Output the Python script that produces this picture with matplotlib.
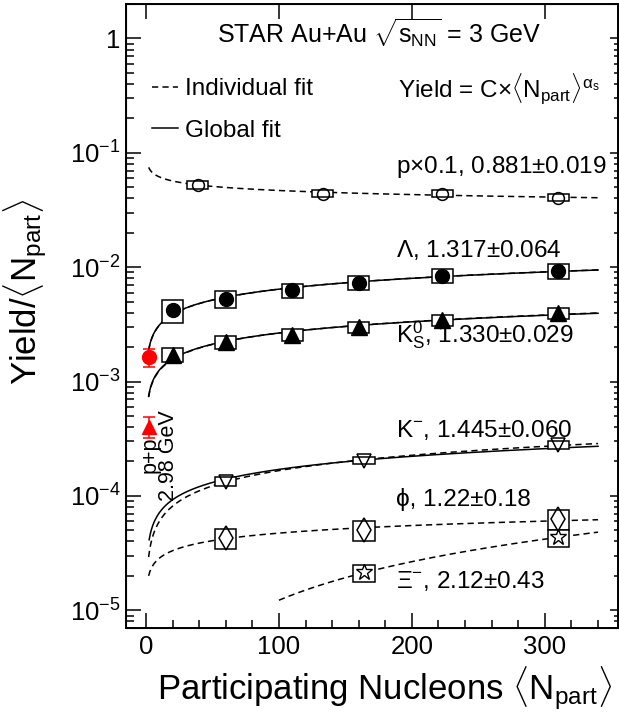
import numpy as np
import matplotlib
matplotlib.use('Agg')
import matplotlib.pyplot as plt
from matplotlib.patches import Rectangle
from matplotlib.ticker import MultipleLocator, LogLocator, FuncFormatter, NullFormatter

plt.rcParams['font.family'] = ['Liberation Sans', 'DejaVu Sans']
plt.rcParams['mathtext.fontset'] = 'custom'
plt.rcParams['mathtext.rm'] = 'Liberation Sans'
plt.rcParams['mathtext.it'] = 'Liberation Sans:italic'
plt.rcParams['mathtext.bf'] = 'Liberation Sans:bold'
plt.rcParams['lines.scale_dashes'] = False

# Data: Yield/<Npart> vs <Npart>
npart_p = [39, 133, 223, 310]
yield_p = [0.0525, 0.044, 0.044, 0.0406]     # protons x 0.1
sys_p = [0.08, 0.07, 0.07, 0.07]

npart_lam = [20, 60, 110, 160, 223, 310]
yield_lam = [4.2e-3, 5.25e-3, 6.3e-3, 7.3e-3, 8.4e-3, 9.3e-3]
sys_lam = [0.22, 0.17, 0.14, 0.14, 0.14, 0.15]

npart_k0s = [20, 60, 110, 160, 223, 310]
yield_k0s = [1.71e-3, 2.22e-3, 2.57e-3, 3.0e-3, 3.45e-3, 3.94e-3]
sys_k0s = [0.14, 0.13, 0.12, 0.11, 0.11, 0.11]

npart_km = [60, 164, 310]
yield_km = [1.33e-4, 2.03e-4, 2.81e-4]
sys_km = [0.09, 0.07, 0.08]

npart_phi = [60, 164, 310]
yield_phi = [4.28e-5, 5.03e-5, 6.28e-5]
sys_phi = [0.2, 0.2, 0.2]

npart_xi = [164, 310]
yield_xi = [2.14e-5, 4.33e-5]
sys_xi = [0.17, 0.17]

# p+p reference at 2.98 GeV
npart_pp = 2
yield_pp_lam, err_pp_lam = 1.63e-3, 0.29e-3
yield_pp_k0s, err_pp_k0s = 4.03e-4, 0.85e-4

# fit exponents (individual fits, and global fit for Lambda, K0s, K-)
alpha_p, alpha_lam, alpha_k0s, alpha_km, alpha_phi, alpha_xi = 0.881, 1.317, 1.330, 1.445, 1.22, 2.12
glob_alpha_lam, glob_alpha_k0s, glob_alpha_km = 1.315, 1.325, 1.38


def norm_const(x, y, alpha):
    # C in Yield/Npart = C * Npart^(alpha-1), fixed alpha, fitted in log space
    x = np.asarray(x, float)
    y = np.asarray(y, float)
    return np.exp(np.mean(np.log(y) - (alpha - 1) * np.log(x)))


def fit_curve(ax, x, y, alpha, x0=2, x1=340, ls='--'):
    c = norm_const(x, y, alpha)
    xx = np.linspace(x0, x1, 400)
    if ls == '--':
        ax.plot(xx, c * xx ** (alpha - 1), color='k', lw=1.1, dashes=(4.5, 3), zorder=2)
    else:
        ax.plot(xx, c * xx ** (alpha - 1), color='k', lw=1.1, zorder=2)


def sys_boxes(ax, x, y, s, hw=8):
    for xi, yi, si in zip(x, y, s):
        ax.add_patch(Rectangle((xi - hw, yi * (1 - si)), 2 * hw, 2 * si * yi,
                               facecolor='white', edgecolor='k', lw=1.1, zorder=3))


fig = plt.figure(figsize=(6.19, 7.2), dpi=100)
ax = fig.add_axes([126 / 619, 92 / 720, 492 / 619, 624 / 720])
ax.set_yscale('log')
ax.set_xlim(-15, 355)
ax.set_ylim(7e-6, 2.0)

# fits
fit_curve(ax, npart_p, yield_p, alpha_p)
fit_curve(ax, npart_lam, yield_lam, alpha_lam)
fit_curve(ax, npart_k0s, yield_k0s, alpha_k0s)
fit_curve(ax, npart_km, yield_km, alpha_km)
fit_curve(ax, npart_phi, yield_phi, alpha_phi)
fit_curve(ax, npart_xi, yield_xi, alpha_xi, x0=100)
fit_curve(ax, npart_lam, yield_lam, glob_alpha_lam, ls='-')
fit_curve(ax, npart_k0s, yield_k0s, glob_alpha_k0s, ls='-')
fit_curve(ax, npart_km, yield_km, glob_alpha_km, x0=2.4, ls='-')

# systematic boxes
sys_boxes(ax, npart_p, yield_p, sys_p)
sys_boxes(ax, npart_lam, yield_lam, sys_lam)
sys_boxes(ax, npart_k0s, yield_k0s, sys_k0s)
sys_boxes(ax, npart_km, yield_km, sys_km)
sys_boxes(ax, npart_phi, yield_phi, sys_phi)
sys_boxes(ax, npart_xi, yield_xi, sys_xi)

# data points
ax.plot(npart_p, yield_p, 'o', mfc='none', mec='k', mew=1.1, ms=8.5, ls='none', zorder=4)
ax.plot(npart_lam, yield_lam, 'o', color='k', ms=10, ls='none', zorder=4)
ax.plot(npart_k0s, yield_k0s, '^', color='k', ms=11, ls='none', zorder=4)
ax.plot(npart_km, yield_km, 'v', mfc='none', mec='k', mew=1.1, ms=10, ls='none', zorder=4)
ax.plot(npart_phi, yield_phi, 'd', mfc='none', mec='k', mew=1.1, ms=12, ls='none', zorder=4)
ax.plot(npart_xi, yield_xi, '*', mfc='none', mec='k', mew=1.0, ms=12, ls='none', zorder=4)

ax.errorbar([npart_pp], [yield_pp_lam], yerr=[err_pp_lam], fmt='o', color='red', ms=10,
            capsize=4.5, elinewidth=1.1, capthick=1.1, zorder=5)
ax.errorbar([npart_pp], [yield_pp_k0s], yerr=[err_pp_k0s], fmt='^', color='red', ms=10,
            capsize=4.5, elinewidth=1.1, capthick=1.1, zorder=5)

# ticks, ROOT style
ax.xaxis.set_major_locator(MultipleLocator(100))
ax.xaxis.set_minor_locator(MultipleLocator(20))
ax.yaxis.set_major_locator(LogLocator(base=10, numticks=20))
ax.yaxis.set_minor_locator(LogLocator(base=10, subs=np.arange(2, 10), numticks=20))
ax.yaxis.set_minor_formatter(NullFormatter())


def ylab(v, pos):
    e = int(round(np.log10(v)))
    return '1' if e == 0 else r'10$^{\mathregular{%d}}$' % e


ax.yaxis.set_major_formatter(FuncFormatter(ylab))
ax.tick_params(axis='both', which='both', direction='in', width=1.1, labelsize=18.5)
ax.tick_params(axis='both', which='major', length=11)
ax.tick_params(axis='both', which='minor', length=5.5)
ax.tick_params(axis='x', top=True, pad=5)
ax.tick_params(axis='y', right=False, pad=4)
for sp in ax.spines.values():
    sp.set_linewidth(1.4)

# shorter ticks on the right side
ax2 = ax.twinx()
ax2.set_yscale('log')
ax2.set_ylim(ax.get_ylim())
ax2.yaxis.set_major_locator(LogLocator(base=10, numticks=20))
ax2.yaxis.set_minor_locator(LogLocator(base=10, subs=np.arange(2, 10), numticks=20))
ax2.tick_params(axis='y', which='both', direction='in', width=1.1, labelright=False)
ax2.tick_params(axis='y', which='major', length=6)
ax2.tick_params(axis='y', which='minor', length=3)

# axis titles
fig.text(385 / 619, 21 / 720, r'Participating Nucleons $\langle$N$_{\mathrm{part}}\rangle$',
         ha='center', va='baseline', fontsize=25)
fig.text(25 / 619, 428 / 720, r'Yield/$\langle$N$_{\mathrm{part}}\rangle$',
         ha='center', va='center', rotation=90, fontsize=25)

# annotations
tf = ax.transAxes
ax.text(0.184, 0.937, r'STAR Au+Au $\sqrt{\mathrm{s}_{\mathrm{NN}}}$ = 3 GeV', transform=tf,
        fontsize=18, va='baseline')
ax.plot([0.053, 0.106], [0.867, 0.867], transform=tf, color='k', lw=1.1, dashes=(4.5, 3))
ax.text(0.12, 0.854, 'Individual fit', transform=tf, fontsize=17.5, va='baseline')
ax.plot([0.053, 0.106], [0.802, 0.802], transform=tf, color='k', lw=1.1)
ax.text(0.12, 0.787, 'Global fit', transform=tf, fontsize=17.5, va='baseline')
ax.text(0.553, 0.851, r'Yield = C$\times\langle$N$_{\mathrm{part}}\rangle^{\mathrm{\alpha_{s}}}$',
        transform=tf, fontsize=17.5, va='baseline')

labels = [
    (0.729, r'p$\times$0.1, 0.881$\pm$0.019'),
    (0.595, r'$\Lambda$, 1.317$\pm$0.064'),
    (0.457, r'K$_{\mathrm{S}}^{0}$, 1.330$\pm$0.029'),
    (0.306, r'K$^{-}$, 1.445$\pm$0.060'),
    (0.196, 'ϕ, 1.22±0.18'),
    (0.064, r'$\Xi^{-}$, 2.12$\pm$0.43'),
]
for yy, s in labels:
    ax.text(0.549, yy, s, transform=tf, fontsize=17.5, va='baseline')

ax.text(0.068, 0.277, 'p+p\n2.98 GeV', transform=tf, fontsize=15.5, rotation=90,
        ha='center', va='center', multialignment='center', linespacing=0.85)

fig.savefig('out.png', dpi=100)
